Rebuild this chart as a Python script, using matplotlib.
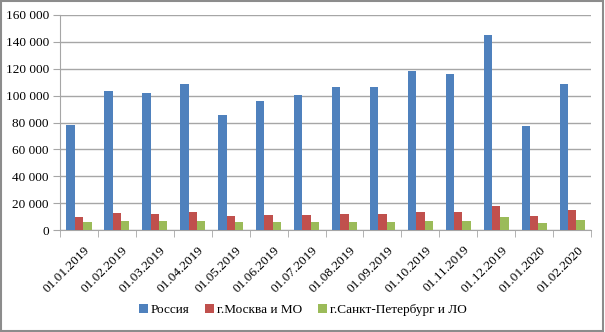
import numpy as np
import matplotlib
matplotlib.use('Agg')
from matplotlib import pyplot as plt
from matplotlib.ticker import FuncFormatter, FixedLocator
from matplotlib.patches import Rectangle
from matplotlib.transforms import ScaledTranslation

dates = ['01.01.2019', '01.02.2019', '01.03.2019', '01.04.2019', '01.05.2019',
         '01.06.2019', '01.07.2019', '01.08.2019', '01.09.2019', '01.10.2019',
         '01.11.2019', '01.12.2019', '01.01.2020', '01.02.2020']
russia = [78500, 103500, 101800, 108900, 85700, 96000, 100300,
          106500, 106500, 118400, 116100, 145200, 77500, 108400]
moscow = [9400, 12900, 12300, 13400, 10400, 11300, 11300,
          11800, 11800, 13700, 13700, 17900, 10400, 14600]
spb = [5700, 6700, 6700, 6900, 5700, 6200, 6200,
       6000, 6000, 6700, 6900, 9400, 5200, 7400]
series_names = ['Россия', 'г.Москва и МО', 'г.Санкт-Петербург и ЛО']
colors = ['#4F81BD', '#C0504D', '#9BBB59']

plt.rcParams['font.family'] = ['Liberation Serif', 'DejaVu Serif']

fig = plt.figure(figsize=(6.05, 3.32), dpi=100)
ax = fig.add_axes([0.0992, 0.307, 0.8778, 0.648])

x = np.arange(len(dates))
w = 0.22
for i, (vals, name, c) in enumerate(zip([russia, moscow, spb], series_names, colors)):
    ax.bar(x + (i - 1) * w, vals, width=w, color=c, label=name, zorder=3)

ax.set_xlim(-0.5, len(dates) - 0.5)
ax.set_ylim(0, 160000)
ax.set_yticks(np.arange(0, 160001, 20000))
ax.yaxis.set_major_formatter(FuncFormatter(lambda v, p: '{:,}'.format(int(v)).replace(',', ' ')))
ax.grid(axis='y', color='#A6A6A6', linewidth=1, zorder=0)

ax.set_xticks(x)
ax.set_xticklabels(dates, rotation=45, ha='right', rotation_mode='anchor')
ax.tick_params(axis='x', which='major', length=0, pad=10, labelsize=9.5)
shift = ScaledTranslation(5 / 100, 0, fig.dpi_scale_trans)
for lbl in ax.get_xticklabels():
    lbl.set_transform(lbl.get_transform() + shift)
ax.xaxis.set_minor_locator(FixedLocator(np.arange(-0.5, len(dates), 1)))
ax.tick_params(axis='x', which='minor', length=5, color='#A6A6A6')
ax.tick_params(axis='y', length=5, color='#A6A6A6', labelsize=9.5, pad=3)

for s in ['top', 'right']:
    ax.spines[s].set_visible(False)
for s in ['left', 'bottom']:
    ax.spines[s].set_color('#A6A6A6')

fig.legend(loc='center', bbox_to_anchor=(0.5, 0.066), ncol=3, frameon=False,
           fontsize=9.5, handlelength=0.7, handleheight=0.7, handletextpad=0.2,
           columnspacing=1.2)

fig.patches.append(Rectangle((0.002, 0.003), 0.995, 0.993, transform=fig.transFigure,
                             fill=False, edgecolor='#8C8C8C', linewidth=1.5))

fig.savefig('out.png', dpi=100)
